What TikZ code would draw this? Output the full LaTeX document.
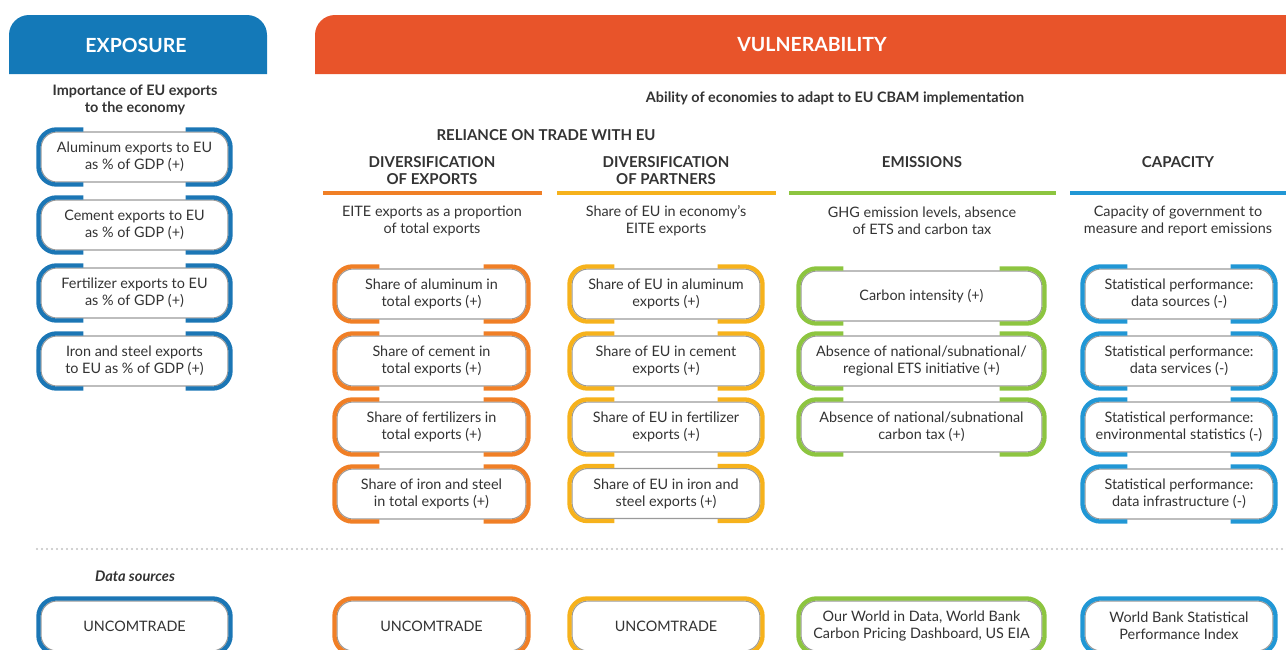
\documentclass[tikz,border=0pt]{standalone}
\usepackage{fontspec}
\setmainfont{Lato}
\definecolor{expblue}{HTML}{1479B8}
\definecolor{vulred}{HTML}{E8542A}
\definecolor{cor}{HTML}{F07F26}
\definecolor{cye}{HTML}{F6B21C}
\definecolor{cgr}{HTML}{8DC540}
\definecolor{cbl}{HTML}{2197D5}
\definecolor{cbx}{HTML}{1B76B5}
\definecolor{tcol}{HTML}{333333}
\definecolor{gline}{HTML}{9A9A9A}
\tikzset{
  x=1pt, y=-1pt,
  body/.style={font=\fontsize{14.4}{17}\selectfont, text=tcol, align=center},
  hdr/.style={font=\fontsize{15}{17}\selectfont\bfseries, text=tcol, align=center},
  sub/.style={font=\fontsize{14.4}{17}\selectfont\bfseries, text=tcol, align=center},
  ibox/.style={body, draw=gline, line width=1.1pt, rounded corners=16pt, fill=white,
    minimum height=50pt, inner sep=0pt},
  brk/.style={line width=4.3pt, rounded corners=18pt},
  bar/.style={line width=3.5pt},
}
\newcommand\mybrk[2]{%
  \draw[brk,#2] ([shift={(43pt,2pt)}]#1.north west) -- ([shift={(-2pt,2pt)}]#1.north west)
     -- ([shift={(-2pt,-2pt)}]#1.south west) -- ([shift={(43pt,-2pt)}]#1.south west);
  \draw[brk,#2] ([shift={(-43pt,2pt)}]#1.north east) -- ([shift={(2pt,2pt)}]#1.north east)
     -- ([shift={(2pt,-2pt)}]#1.south east) -- ([shift={(-43pt,-2pt)}]#1.south east);
}
\newcommand\myfull[2]{%
  \draw[brk,#2] ([shift={(-2pt,2pt)}]#1.north west) rectangle ([shift={(2pt,-2pt)}]#1.south east);
}
\begin{document}
\begin{tikzpicture}
\useasboundingbox (0,0) rectangle (1286,649);
% headers
\fill[expblue] (9,74) -- (9,35) arc[start angle=180,end angle=90,radius=20pt] -- (247,15)
   arc[start angle=90,end angle=0,radius=20pt] -- (267,74) -- cycle;
\node[font=\fontsize{19.5}{22}\selectfont\bfseries, text=white] (hexp) at (136,45) {EXPOSURE};
\fill[vulred] (315,74) -- (315,35) arc[start angle=180,end angle=90,radius=20pt] -- (1300,15)
   -- (1300,74) -- cycle;
\node[font=\fontsize{19.5}{22}\selectfont\bfseries, text=white] (hvul) at (812,45) {VULNERABILITY};

\node[sub] (imp) at (135,100) {Importance of EU exports\\to the economy};
\node[sub] (abl) at (835,98) {Ability of economies to adapt to EU CBAM implementation};
\node[hdr] (rel) at (546,135) {RELIANCE ON TRADE WITH EU};

\node[hdr] (h1) at (432,171) {DIVERSIFICATION\\OF EXPORTS};
\node[hdr] (h2) at (666,171) {DIVERSIFICATION\\OF PARTNERS};
\node[hdr] (h3) at (922,162) {EMISSIONS};
\node[hdr] (h4) at (1178,162) {CAPACITY};

\draw[bar,cor] (323,193) -- (542,193);
\draw[bar,cye] (557,193) -- (776,193);
\draw[bar,cgr] (789,193) -- (1056,193);
\draw[bar,cbl] (1070,193) -- (1290,193);

\node[body] (d1) at (432,220.5) {EITE exports as a proportion\\of total exports};
\node[body] (d2) at (666,220.5) {Share of EU in economy’s\\EITE exports};
\node[body] (d3) at (922,220.5) {GHG emission levels, absence\\of ETS and carbon tax};
\node[body] (d4) at (1178,220.5) {Capacity of government to\\measure and report emissions};

% exposure boxes
\node[ibox, minimum width=187pt] (e1) at (134.5,157) {Aluminum exports to EU\\as \% of GDP (+)};
\node[ibox, minimum width=187pt] (e2) at (134.5,225) {Cement exports to EU\\as \% of GDP (+)};
\node[ibox, minimum width=187pt] (e3) at (134.5,293) {Fertilizer exports to EU\\as \% of GDP (+)};
\node[ibox, minimum width=187pt] (e4) at (134.5,361) {Iron and steel exports\\to EU as \% of GDP (+)};
% orange
\node[ibox, minimum width=189pt] (o1) at (431.5,294) {Share of aluminum in\\total exports (+)};
\node[ibox, minimum width=189pt] (o2) at (431.5,361) {Share of cement in\\total exports (+)};
\node[ibox, minimum width=189pt] (o3) at (431.5,427) {Share of fertilizers in\\total exports (+)};
\node[ibox, minimum width=189pt] (o4) at (431.5,494) {Share of iron and steel\\in total exports (+)};
% yellow
\node[ibox, minimum width=188pt] (y1) at (666,294) {Share of EU in aluminum\\exports (+)};
\node[ibox, minimum width=188pt] (y2) at (666,361) {Share of EU in cement\\exports (+)};
\node[ibox, minimum width=188pt] (y3) at (666,427) {Share of EU in fertilizer\\exports (+)};
\node[ibox, minimum width=188pt] (y4) at (666,493.5) {Share of EU in iron and\\steel exports (+)};
% green
\node[ibox, minimum width=241pt] (g1) at (921.5,296) {Carbon intensity (+)};
\node[ibox, minimum width=241pt] (g2) at (921.5,361) {Absence of national/subnational/\\regional ETS initiative (+)};
\node[ibox, minimum width=241pt] (g3) at (921.5,427) {Absence of national/subnational\\carbon tax (+)};
% blue
\node[ibox, minimum width=188pt] (b1) at (1179,294) {Statistical performance:\\data sources (-)};
\node[ibox, minimum width=188pt] (b2) at (1179,361) {Statistical performance:\\data services (-)};
\node[ibox, minimum width=188pt] (b3) at (1179,427) {Statistical performance:\\environmental statistics (-)};
\node[ibox, minimum width=188pt] (b4) at (1179,494) {Statistical performance:\\data infrastructure (-)};

\foreach \n in {e1,e2,e3,e4} {\mybrk{\n}{cbx}}
\foreach \n in {o1,o2,o3,o4} {\mybrk{\n}{cor}}
\foreach \n in {y1,y2,y3,y4} {\mybrk{\n}{cye}}
\foreach \n in {g1,g2,g3} {\mybrk{\n}{cgr}}
\foreach \n in {b1,b2,b3,b4} {\mybrk{\n}{cbl}}

% dotted separator
\coordinate (sl) at (37,549);
\coordinate (sr) at (1290,549);
\draw[gline!60, line width=2.2pt, line cap=round, dash pattern=on 0pt off 5pt] (sl) -- (sr);

\node[font=\fontsize{14.6}{17}\selectfont\bfseries\itshape, text=tcol] (ds) at (135,576) {Data sources};

% data source boxes
\node[ibox, minimum width=187pt] (s1) at (134.5,626) {UNCOMTRADE};
\node[ibox, minimum width=189pt] (s2) at (431.5,626) {UNCOMTRADE};
\node[ibox, minimum width=188pt] (s3) at (666,626) {UNCOMTRADE};
\node[ibox, minimum width=241pt] (s4) at (921.5,626) {Our World in Data, World Bank\\Carbon Pricing Dashboard, US EIA};
\node[ibox, minimum width=188pt] (s5) at (1179,626) {World Bank Statistical\\Performance Index};
\myfull{s1}{cbx}
\myfull{s2}{cor}
\myfull{s3}{cye}
\myfull{s4}{cgr}
\myfull{s5}{cbl}
\end{tikzpicture}
\end{document}
